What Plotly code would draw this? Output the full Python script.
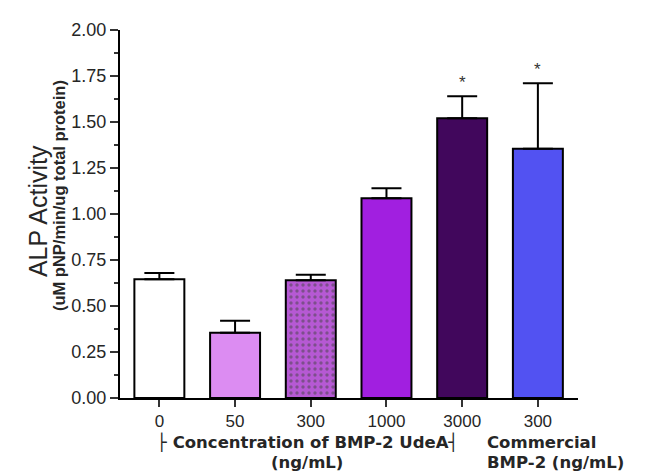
import plotly.graph_objects as go

tick_labels = ["0", "50", "300", "1000", "3000", "300"]
values = [0.645, 0.355, 0.64, 1.085, 1.52, 1.355]
err_up = [0.035, 0.065, 0.03, 0.055, 0.12, 0.355]
colors = ["#ffffff", "#dc8cf2", "#b659d4", "#a11fe0", "#41075c", "#5252f2"]
patterns = ["", "", ".", "", "", ""]
significant = [False, False, False, False, True, True]

x = list(range(len(values)))

FAM = "Liberation Sans, Arial, sans-serif"
WIDE = "DejaVu Sans, Verdana, sans-serif"
TXT = "#262626"

fig = go.Figure()
fig.add_trace(go.Bar(
    x=x, y=values, width=0.66,
    marker=dict(color=colors, line=dict(color="black", width=2),
                pattern=dict(shape=patterns, fgcolor="#7a2a9a", size=6, solidity=0.25)),
    error_y=dict(type="data", symmetric=False, array=err_up, arrayminus=[0]*len(values),
                 color="black", thickness=2, width=15),
    showlegend=False,
))

for i, (v, e, s) in enumerate(zip(values, err_up, significant)):
    if s:
        fig.add_annotation(x=i, y=v + e, text="*", showarrow=False, yanchor="bottom",
                           yshift=2, font=dict(size=17, color="#333333", family=FAM))

fig.update_layout(
    width=646, height=468,
    margin=dict(l=112, r=76, t=20, b=78),
    paper_bgcolor="white", plot_bgcolor="white",
    font=dict(family=FAM, size=18, color=TXT),
    xaxis=dict(range=[-0.52, 5.53], tickvals=x, ticktext=tick_labels, showline=True,
               linecolor="black", linewidth=2, ticks="outside", ticklen=7, tickwidth=2,
               tickcolor="#333", showgrid=False, zeroline=False, tickfont=dict(size=17)),
    yaxis=dict(range=[0, 2.0], tickvals=[0, 0.25, 0.5, 0.75, 1.0, 1.25, 1.5, 1.75, 2.0],
               tickformat=".2f", showline=True, linecolor="black", linewidth=2,
               ticks="outside", ticklen=8, tickwidth=2, tickcolor="#333", showgrid=False,
               zeroline=False, tickfont=dict(size=18),
               minor=dict(dtick=0.125, ticks="outside", ticklen=4, tickwidth=2, tickcolor="#333")),
)

fig.add_annotation(xref="paper", yref="paper", x=-0.179, y=0.508, text="ALP Activity",
                   textangle=-90, showarrow=False, xanchor="center", yanchor="middle",
                   font=dict(size=25, family=FAM, color=TXT))
fig.add_annotation(xref="paper", yref="paper", x=-0.133, y=0.549,
                   text="<b>(uM pNP/min/ug total protein)</b>", textangle=-90, showarrow=False,
                   xanchor="center", yanchor="middle", font=dict(size=16.5, family=FAM, color=TXT))
fig.add_annotation(xref="paper", yref="paper", x=0.41, y=-0.1216,
                   text="<b>\u251c Concentration of BMP-2 UdeA\u2524</b>", showarrow=False,
                   font=dict(size=16.5, family=WIDE, color=TXT), xanchor="center", yanchor="middle")
fig.add_annotation(xref="paper", yref="paper", x=0.408, y=-0.176, text="<b>(ng/mL)</b>",
                   showarrow=False, font=dict(size=16.5, family=WIDE, color=TXT),
                   xanchor="center", yanchor="middle")
fig.add_annotation(xref="paper", yref="paper", x=0.797, y=-0.1216, text="<b>Commercial</b>",
                   showarrow=False, font=dict(size=16.5, family=WIDE, color=TXT),
                   xanchor="left", yanchor="middle")
fig.add_annotation(xref="paper", yref="paper", x=0.797, y=-0.176, text="<b>BMP-2 (ng/mL)</b>",
                   showarrow=False, font=dict(size=16.5, family=WIDE, color=TXT),
                   xanchor="left", yanchor="middle")

fig.write_html("out.html")
